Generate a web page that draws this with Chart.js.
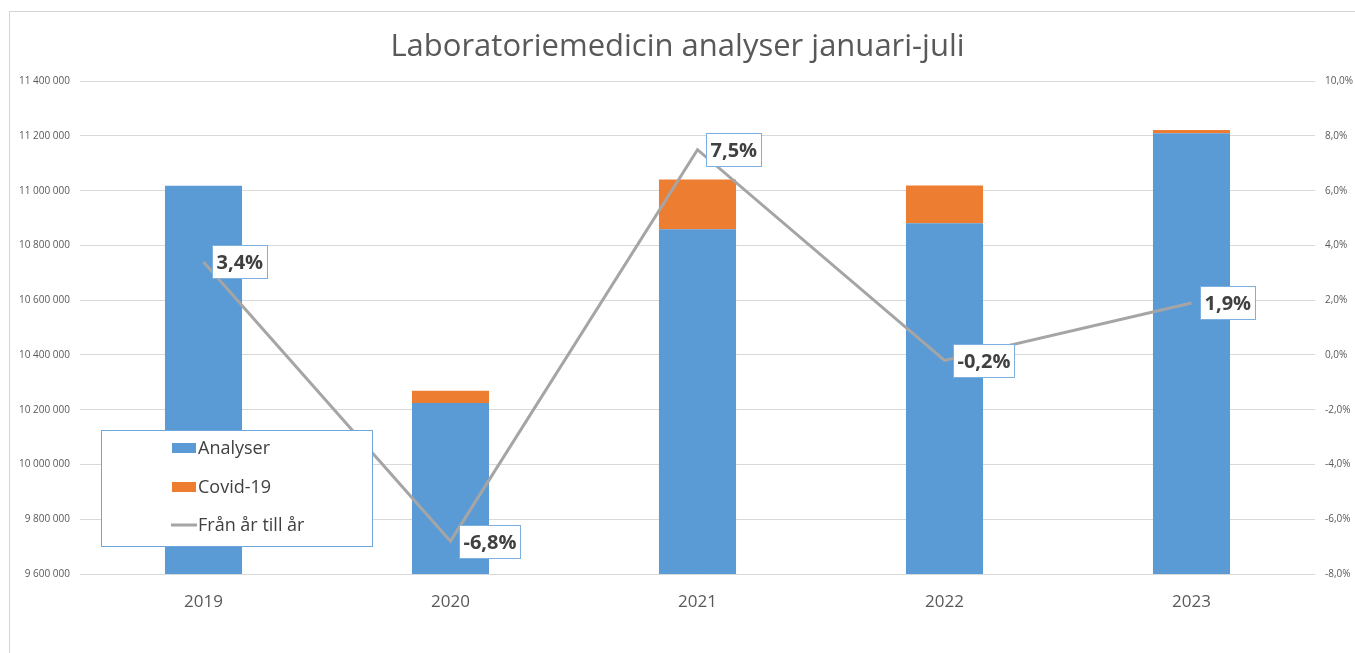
<!DOCTYPE html>
<html>
<head>
<meta charset="utf-8">
<script src="https://cdn.jsdelivr.net/npm/chart.js@4"></script>
<style>
html,body{margin:0;padding:0;background:#fff;width:1355px;height:653px;overflow:hidden;}
#frame{position:absolute;left:9px;top:11px;width:1400px;height:700px;border-top:1px solid #d4d4d4;border-left:1px solid #d4d4d4;}
#c{position:absolute;left:0;top:0;}
</style>
</head>
<body>
<div id="frame"></div>
<canvas id="c" width="1355" height="653"></canvas>
<script>
const categories = ['2019', '2020', '2021', '2022', '2023'];
const analyser = [11018000, 10225000, 10859000, 10881000, 11210000];
const covid = [0, 44000, 182000, 138000, 12000];
const change = [3.4, -6.8, 7.5, -0.2, 1.9];
const seriesNames = ['Analyser', 'Covid-19', 'Från år till år'];
const titleText = 'Laboratoriemedicin analyser januari-juli';

const FONT = "'Open Sans', 'DejaVu Sans', sans-serif";

function fmtThousands(v) {
  return Math.round(v).toString().replace(/\B(?=(\d{3})+(?!\d))/g, ' ');
}
function fmtPct(v) {
  return v.toFixed(1).replace('.', ',') + '%';
}

const labelPlugin = {
  id: 'pctLabels',
  afterDatasetsDraw(chart) {
    const ctx = chart.ctx;
    const meta = chart.getDatasetMeta(2);
    ctx.save();
    ctx.font = "bold 20px " + FONT;
    ctx.textBaseline = 'middle';
    ctx.textAlign = 'left';
    meta.data.forEach((pt, i) => {
      const txt = fmtPct(change[i]);
      const w = ctx.measureText(txt).width;
      const bx = Math.round(pt.x + 8) + 0.5;
      const bh = 33;
      const by = Math.round(pt.y - bh / 2) + 0.5;
      const bw = Math.round(w + 8);
      ctx.fillStyle = '#ffffff';
      ctx.fillRect(bx, by, bw, bh);
      ctx.strokeStyle = '#7eb0df';
      ctx.lineWidth = 1;
      ctx.strokeRect(bx, by, bw, bh);
      ctx.fillStyle = '#404040';
      ctx.fillText(txt, bx + 4, by + bh / 2 + 1);
    });
    ctx.restore();
  }
};

const legendPlugin = {
  id: 'boxLegend',
  afterDraw(chart) {
    const ctx = chart.ctx;
    ctx.save();
    const x = 101.5, y = 430.5, w = 271, h = 116;
    ctx.fillStyle = '#ffffff';
    ctx.fillRect(x, y, w, h);
    ctx.strokeStyle = '#6fa6db';
    ctx.lineWidth = 1;
    ctx.strokeRect(x, y, w, h);
    const ds = chart.data.datasets;
    const rows = [448, 487, 525];
    ctx.font = "18px " + FONT;
    ctx.textBaseline = 'middle';
    ctx.textAlign = 'left';
    ds.forEach((d, i) => {
      const cy = rows[i];
      if (d.type === 'line') {
        ctx.strokeStyle = d.borderColor;
        ctx.lineWidth = 3;
        ctx.beginPath();
        ctx.moveTo(171, cy);
        ctx.lineTo(197, cy);
        ctx.stroke();
      } else {
        ctx.fillStyle = d.backgroundColor;
        ctx.fillRect(172, cy - 5, 24, 10);
      }
      ctx.fillStyle = '#404040';
      ctx.fillText(d.label, 198, cy + 1);
    });
    ctx.restore();
  }
};

new Chart(document.getElementById('c'), {
  data: {
    labels: categories,
    datasets: [
      { type: 'bar', label: seriesNames[0], data: analyser, backgroundColor: '#5b9bd5', yAxisID: 'y', stack: 's', order: 1 },
      { type: 'bar', label: seriesNames[1], data: covid, backgroundColor: '#ed7d31', yAxisID: 'y', stack: 's', order: 2 },
      { type: 'line', label: seriesNames[2], data: change, borderColor: '#a5a5a5', backgroundColor: '#a5a5a5', borderWidth: 3, pointRadius: 0, tension: 0, yAxisID: 'y1', order: 0 }
    ]
  },
  options: {
    responsive: false,
    animation: false,
    devicePixelRatio: 1,
    layout: { padding: 0 },
    datasets: { bar: { categoryPercentage: 1, barPercentage: 0.312 } },
    plugins: {
      legend: { display: false },
      tooltip: { enabled: false },
      title: {
        display: true,
        text: titleText,
        color: '#595959',
        font: { family: FONT, size: 31, weight: '400' },
        padding: { top: 29, bottom: 15 }
      }
    },
    scales: {
      x: {
        stacked: true,
        grid: { display: false, drawTicks: false },
        border: { display: false },
        ticks: { color: '#595959', font: { family: FONT, size: 17 }, padding: 18 },
        afterFit(s) { s.height = 79; }
      },
      y: {
        position: 'left',
        stacked: true,
        min: 9600000,
        max: 11400000,
        grid: { color: '#d9d9d9', lineWidth: 1, drawTicks: false },
        border: { display: false },
        ticks: { stepSize: 200000, color: '#595959', font: { family: FONT, size: 10 }, padding: 10, callback: v => fmtThousands(v) },
        afterFit(s) { s.width = 80; }
      },
      y1: {
        position: 'right',
        min: -8,
        max: 10,
        grid: { drawOnChartArea: false, drawTicks: false },
        border: { display: false },
        ticks: { stepSize: 2, color: '#595959', font: { family: FONT, size: 10 }, padding: 10, callback: v => fmtPct(v) },
        afterFit(s) { s.width = 40; }
      }
    }
  },
  plugins: [labelPlugin, legendPlugin]
});
</script>
</body>
</html>
